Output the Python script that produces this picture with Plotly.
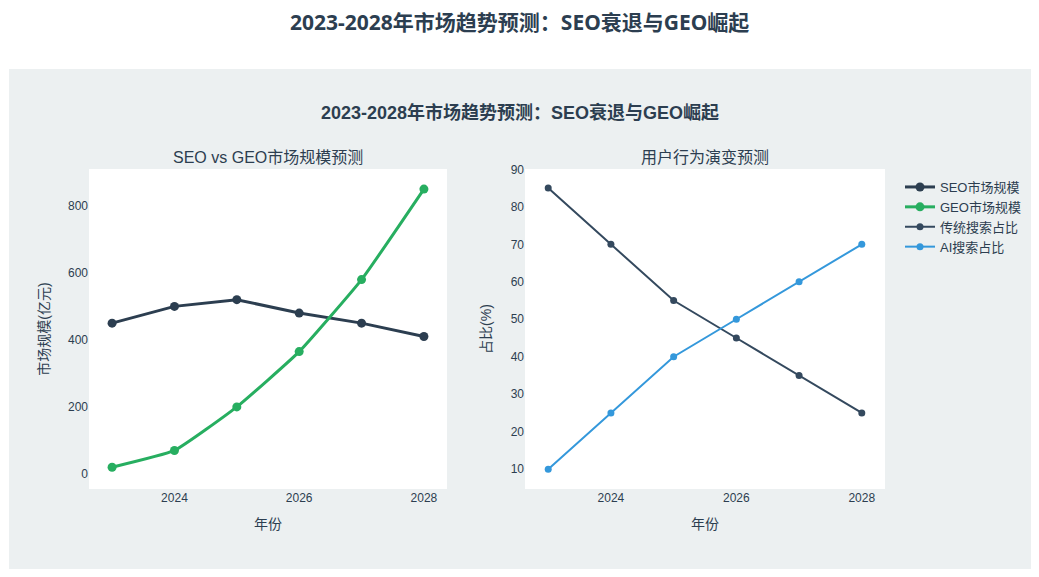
import plotly.graph_objects as go
from plotly.subplots import make_subplots

# ── 数据 ──────────────────────────────────────────────
years = [2023, 2024, 2025, 2026, 2027, 2028]
seo_market = [450, 500, 520, 480, 450, 410]
geo_market = [20, 70, 200, 365, 580, 850]
traditional_share = [85, 70, 55, 45, 35, 25]
ai_share = [10, 25, 40, 50, 60, 70]

title = "2023-2028年市场趋势预测：SEO衰退与GEO崛起"
dark = "#2c3e50"
base_font = "'Liberation Sans', Arial, 'Noto Sans CJK SC', sans-serif"

fig = make_subplots(rows=1, cols=2,
                    subplot_titles=("SEO vs GEO市场规模预测", "用户行为演变预测"))

fig.add_trace(go.Scatter(x=years, y=seo_market, mode="lines+markers", name="SEO市场规模",
                         line=dict(color="#2c3e50", width=3), marker=dict(size=9)), 1, 1)
fig.add_trace(go.Scatter(x=years, y=geo_market, mode="lines+markers", name="GEO市场规模",
                         line=dict(color="#27ae60", width=3, shape="spline", smoothing=0.4),
                         marker=dict(size=9)), 1, 1)
fig.add_trace(go.Scatter(x=years, y=traditional_share, mode="lines+markers", name="传统搜索占比",
                         line=dict(color="#34495e", width=2), marker=dict(size=7)), 1, 2)
fig.add_trace(go.Scatter(x=years, y=ai_share, mode="lines+markers", name="AI搜索占比",
                         line=dict(color="#3498db", width=2), marker=dict(size=7)), 1, 2)

# 页面有 8px 的 body 边距，图本身 1023x561，按页面像素换算 paper 坐标
W, H, OFF = 1023, 561, 8
def px_x(v): return (v - OFF) / W
def px_y(v): return 1 - (v - OFF) / H

fig.update_xaxes(domain=[px_x(89), px_x(447)], row=1, col=1)
fig.update_xaxes(domain=[px_x(525), px_x(885)], row=1, col=2)
fig.update_yaxes(domain=[px_y(489), px_y(169)])
fig.update_xaxes(title_text="年份", range=[2022.63, 2028.37], dtick=2, showgrid=False,
                 zeroline=False, tickfont=dict(size=12), title_font=dict(size=14),
                 automargin=False)
fig.update_yaxes(showgrid=False, zeroline=False, tickfont=dict(size=12), title_font=dict(size=14),
                 automargin=False)
fig.update_yaxes(title_text="市场规模(亿元)", range=[-45, 910], row=1, col=1)
fig.update_yaxes(title_text="占比(%)", range=[4.7, 90.1], dtick=10, row=1, col=2)

# 子图标题位置
for ann, cx in zip(fig.layout.annotations, [268, 705]):
    ann.update(x=px_x(cx), y=px_y(158), xanchor="center", yanchor="middle",
               font=dict(size=16, color=dark))

fig.add_annotation(text="<b>" + title + "</b>", x=px_x(519), y=px_y(22), xref="paper", yref="paper",
                   xanchor="center", yanchor="middle", showarrow=False,
                   font=dict(size=21, color=dark, family="'Noto Sans', 'Noto Sans CJK SC', sans-serif"))
fig.add_annotation(text="<b>" + title + "</b>", x=px_x(520), y=px_y(112), xref="paper", yref="paper",
                   xanchor="center", yanchor="middle", showarrow=False,
                   font=dict(size=18, color=dark))

# 灰色背景框 + 两块白色绘图区
fig.add_shape(type="rect", xref="paper", yref="paper", x0=px_x(9), x1=px_x(1032),
              y0=px_y(569), y1=px_y(69), fillcolor="#ecf0f1", line_width=0, layer="below")
for x0, x1 in [(89, 447), (525, 885)]:
    fig.add_shape(type="rect", xref="paper", yref="paper", x0=px_x(x0), x1=px_x(x1),
                  y0=px_y(489), y1=px_y(169), fillcolor="white", line_width=0, layer="below")

fig.update_layout(
    template="plotly_white",
    width=W, height=H,
    margin=dict(l=0, r=0, t=0, b=0, autoexpand=False),
    paper_bgcolor="white",
    plot_bgcolor="white",
    font=dict(family=base_font, color=dark, size=12),
    legend=dict(x=px_x(900), y=px_y(172), xanchor="left", yanchor="top",
                bgcolor="rgba(0,0,0,0)", font=dict(size=13)),
)

fig.write_html("out.html")
